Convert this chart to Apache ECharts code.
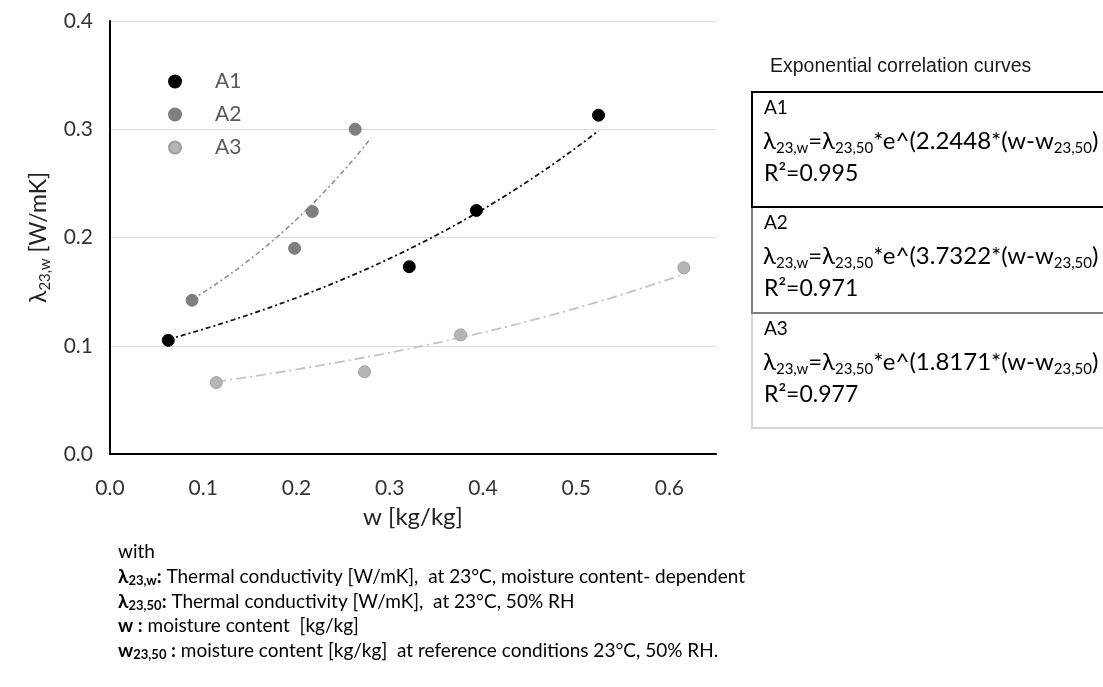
<!DOCTYPE html>
<html><head><meta charset="utf-8">
<script src="https://cdn.jsdelivr.net/npm/echarts@6/dist/echarts.min.js"></script>
<style>html,body{margin:0;padding:0;background:#fff}#c{width:1103px;height:687px}</style>
</head><body><div id="c"></div>
<script>
// ---- data ----
const seriesNames = ['A1', 'A2', 'A3'];
const a1W = [0.0625, 0.321, 0.393, 0.524];
const a1L = [0.105, 0.173, 0.225, 0.313];
const a2W = [0.088, 0.198, 0.217, 0.263];
const a2L = [0.142, 0.190, 0.224, 0.300];
const a3W = [0.114, 0.273, 0.376, 0.6155];
const a3L = [0.066, 0.076, 0.110, 0.172];
// exponential correlation curves: lambda = A * exp(B * w)
const trendB = [2.2448, 3.7322, 1.8171];
const trendA = [0.0921, 0.1027, 0.0543];
const trendFrom = [0.0625, 0.088, 0.114];
const trendTo = [0.524, 0.280, 0.6155];
const r2Values = ['0.995', '0.971', '0.977'];
const coefLabels = ['2.2448', '3.7322', '1.8171'];

const FONT = 'Lato';
const markerColors = ['#000000', '#7f7f7f', '#b5b5b5'];
const markerBorders = ['#000000', '#7f7f7f', '#9f9f9f'];
const trendColors = ['#111111', '#8a8a8a', '#c3c3c3'];
const trendDash = [[5, 3, 2, 3], [5, 3, 2, 3], [10, 4, 2, 4]];
const trendWidth = [1.8, 1.5, 1.8];

function trendPoints(i) {
  const pts = [];
  const n = 40;
  for (let k = 0; k <= n; k++) {
    const w = trendFrom[i] + (trendTo[i] - trendFrom[i]) * k / n;
    pts.push([w, trendA[i] * Math.exp(trendB[i] * w)]);
  }
  return pts;
}

const scatterData = [
  a1W.map((w, i) => [w, a1L[i]]),
  a2W.map((w, i) => [w, a2L[i]]),
  a3W.map((w, i) => [w, a3L[i]])
];

const series = [];
for (let i = 0; i < 3; i++) {
  series.push({
    name: 'trend ' + seriesNames[i], type: 'line', data: trendPoints(i),
    showSymbol: false, symbol: 'none', smooth: false, silent: true, z: 2,
    lineStyle: { color: trendColors[i], width: trendWidth[i], type: trendDash[i] }
  });
}
for (let i = 0; i < 3; i++) {
  series.push({
    name: seriesNames[i], type: 'scatter', data: scatterData[i], symbolSize: 12, z: 3,
    itemStyle: { color: markerColors[i], borderColor: markerBorders[i], borderWidth: 1, opacity: 1 }
  });
}

const boxTops = [92, 207, 313];
const boxHeights = [115, 106, 115];
const boxStrokes = ['#000000', '#7f7f7f', '#d4d4d4'];
const graphics = [];
graphics.push({ type: 'text', left: 770, top: 57,
  style: { text: 'Exponential correlation curves', font: '19.5px "Liberation Sans"', fill: '#1a1a1a' } });
for (let i = 2; i >= 0; i--) {
  graphics.push({ type: 'rect', shape: { x: 752, y: boxTops[i], width: 420, height: boxHeights[i] },
    style: { fill: 'none', stroke: boxStrokes[i], lineWidth: 2 }, z: 10 - i });
}
const eqRich = {
  l: { fontSize: 24, fontFamily: FONT, lineHeight: 30, fill: '#000' },
  s: { fontSize: 15, fontFamily: FONT, lineHeight: 19, verticalAlign: 'bottom', fill: '#000' }
};
for (let i = 0; i < 3; i++) {
  const t = boxTops[i];
  graphics.push({ type: 'text', left: 764, top: t + 6, z: 20,
    style: { text: seriesNames[i], font: '19px ' + FONT, fill: '#000' } });
  graphics.push({ type: 'text', left: 763, top: t + 37, z: 20,
    style: { text: '{l|λ}{s|23,w}{l|=λ}{s|23,50}{l|*e^(' + coefLabels[i] + '*(w-w}{s|23,50}{l|)}', rich: eqRich } });
  graphics.push({ type: 'text', left: 764, top: t + 70, z: 20,
    style: { text: 'R²=' + r2Values[i], font: '23px ' + FONT, fill: '#000' } });
}
const noteRich = {
  b: { fontSize: 19, fontWeight: 'bold', fontFamily: FONT, lineHeight: 22, fill: '#000' },
  bs: { fontSize: 13, fontWeight: 'bold', fontFamily: FONT, lineHeight: 16, verticalAlign: 'bottom', fill: '#000' },
  n: { fontSize: 19, fontFamily: FONT, lineHeight: 22, fill: '#000' }
};
const noteLines = [
  '{n|with}',
  '{b|λ}{bs|23,w}{b|:}{n| Thermal conductivity [W/mK],  at 23°C, moisture content- dependent}',
  '{b|λ}{bs|23,50}{b|:}{n| Thermal conductivity [W/mK],  at 23°C, 50% RH}',
  '{b|w :}{n| moisture content  [kg/kg]}',
  '{b|w}{bs|23,50}{b| :}{n| moisture content [kg/kg]  at reference conditions 23°C, 50% RH.}'
];
const noteY = [542, 567, 592, 616, 641];
noteLines.forEach((s, i) => {
  graphics.push({ type: 'text', left: 118, top: noteY[i], style: { text: s, rich: noteRich } });
});

const chart = echarts.init(document.getElementById('c'));
chart.setOption({
  animation: false,
  backgroundColor: '#ffffff',
  grid: { left: 110, right: 387, top: 21, bottom: 233, containLabel: false },
  legend: {
    data: seriesNames, orient: 'vertical', left: 163, top: 66,
    itemWidth: 70, itemHeight: 12, itemGap: 12, icon: 'circle',
    textStyle: { fontSize: 21, fontFamily: FONT, color: '#595959', lineHeight: 19 }
  },
  xAxis: {
    type: 'value', min: 0, max: 0.65, interval: 0.1,
    name: 'w [kg/kg]', nameLocation: 'middle', nameGap: 51,
    nameTextStyle: { fontSize: 24, fontFamily: FONT, color: '#222' },
    axisLine: { show: true, lineStyle: { color: '#000', width: 2 } },
    axisTick: { show: false },
    splitLine: { show: false },
    axisLabel: { fontSize: 21, fontFamily: FONT, color: '#333', margin: 24,
      formatter: v => (Math.abs(v * 10 - Math.round(v * 10)) < 1e-6 ? v.toFixed(1) : '') }
  },
  yAxis: {
    type: 'value', min: 0, max: 0.4, interval: 0.1,
    name: '{l|λ}{s|23,w}{l| [W/mK]}', nameLocation: 'middle', nameGap: 56,
    nameTextStyle: { rich: {
      l: { fontSize: 23, fontFamily: FONT, color: '#222', lineHeight: 28 },
      s: { fontSize: 15, fontFamily: FONT, color: '#222', lineHeight: 18, verticalAlign: 'bottom' } } },
    axisLine: { show: true, lineStyle: { color: '#000', width: 2 } },
    axisTick: { show: false },
    splitLine: { show: true, lineStyle: { color: '#dcdcdc', width: 1.2 } },
    axisLabel: { fontSize: 21, fontFamily: FONT, color: '#333', margin: 17,
      formatter: v => v.toFixed(1) }
  },
  series: series,
  graphic: graphics
});
</script></body></html>
